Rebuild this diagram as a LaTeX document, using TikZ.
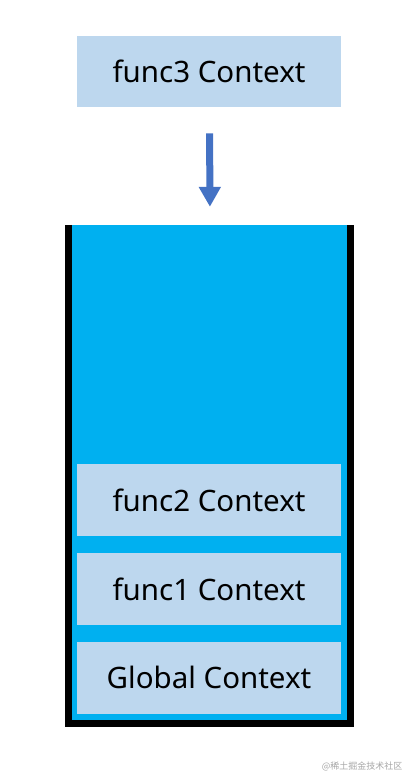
\documentclass[tikz,border=0pt]{standalone}
\usepackage{fontspec}
\setmainfont{Noto Sans}
\newfontfamily\cjk{Noto Sans CJK SC}
\usetikzlibrary{arrows.meta, positioning}

\definecolor{ctxblue}{HTML}{BDD7EE}
\definecolor{stackblue}{HTML}{00B0F0}
\definecolor{arrowblue}{HTML}{4472C4}

\begin{document}
\begin{tikzpicture}[x=1pt,y=-1pt,
  ctx/.style={fill=ctxblue,minimum width=264pt,minimum height=71.5pt,
    inner sep=0pt,font=\fontsize{29.5}{32}\selectfont},
  stack/.style={fill=stackblue,minimum width=275pt,minimum height=495pt,inner sep=0pt},
  wall/.style={line width=6.5pt,black}]

    \useasboundingbox (0,0) rectangle (420,784);

    \node[stack] (stack) at (209.5,472.5) {};
    \draw[wall] ([xshift=-3.25pt]stack.north west) -- ([xshift=-3.25pt,yshift=-3.25pt]stack.south west)
      -- ([xshift=3.25pt,yshift=-3.25pt]stack.south east) -- ([xshift=3.25pt]stack.north east);

    \node[ctx] (f3) at (209,71.5) {func3 Context};
    \node[ctx] (f2) at (209,500) {func2 Context};
    \node[ctx] (f1) [below=17pt of f2] {func1 Context};
    \node[ctx] (g) [below=17pt of f1] {Global Context};

    \draw[arrowblue, line width=7pt, -{Triangle[width=21pt,length=20pt]},
      shorten <=26pt, shorten >=18pt] ([xshift=0.5pt]f3.south) -- ([xshift=0.5pt]stack.north);

    \node[text=black!35, font=\cjk\fontsize{9}{10}\selectfont, anchor=east] (mark) at (406,766) {@稀土掘金技术社区};

\end{tikzpicture}
\end{document}
